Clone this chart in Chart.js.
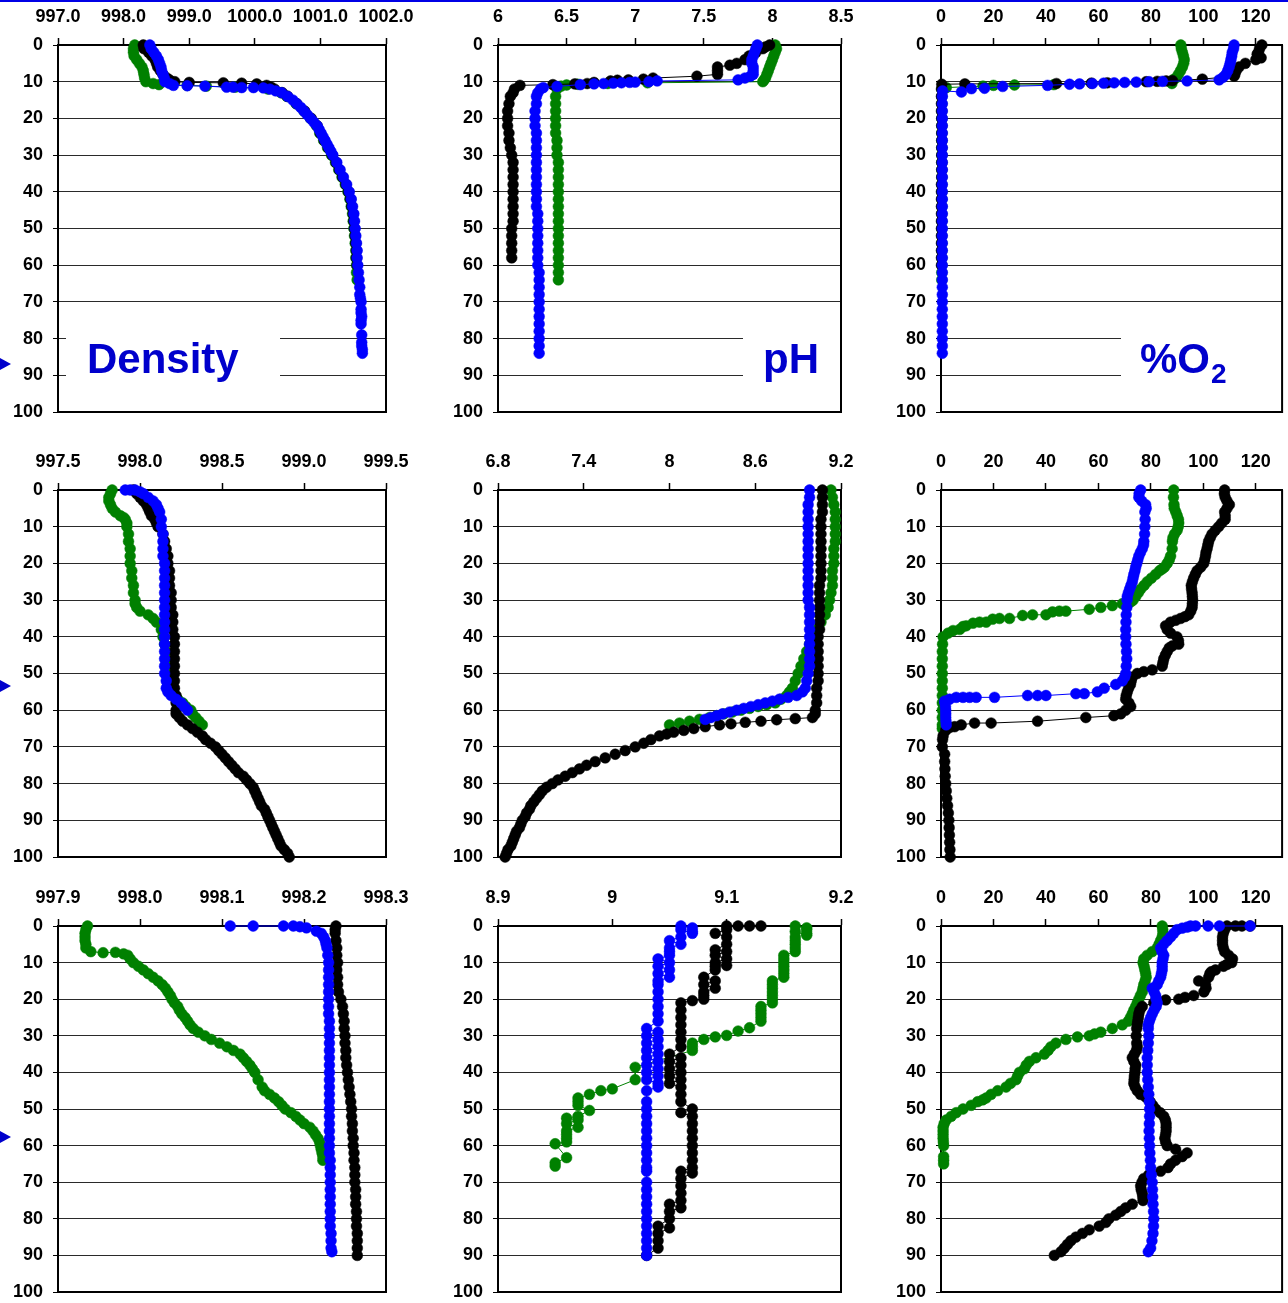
<!DOCTYPE html>
<html>
<head>
<meta charset="utf-8">
<title>Depth profiles</title>
<script src="https://cdn.jsdelivr.net/npm/chart.js@4.4.1/dist/chart.umd.min.js"></script>
<style>
  body { margin: 0; background: #fff; width: 1288px; height: 1303px; position: relative; overflow: hidden; }
  #topline { position: absolute; left: 0; top: 0; width: 1288px; height: 2px; background: #0000e6; }
  .arrow { position: absolute; left: 0; width: 0; height: 0; border-top: 6px solid transparent; border-bottom: 6px solid transparent; border-left: 11px solid #0000cc; }
</style>
</head>
<body>
<div id="topline"></div>
<div class="arrow" style="top:358px"></div>
<div class="arrow" style="top:680px"></div>
<div class="arrow" style="top:1131px"></div>
<script>
// depth (m) on y, measured value on x; each pair is [depth, value]
const depthTicks = [0, 10, 20, 30, 40, 50, 60, 70, 80, 90, 100];

const densTopTicks = [997, 998, 999, 1000, 1001, 1002];
const phTopTicks = [6, 6.5, 7, 7.5, 8, 8.5];
const oxyTicks = [0, 20, 40, 60, 80, 100, 120];
const densMidTicks = [997.5, 998, 998.5, 999, 999.5];
const phMidTicks = [6.8, 7.4, 8, 8.6, 9.2];
const densLowTicks = [997.9, 998, 998.1, 998.2, 998.3];
const phLowTicks = [8.9, 9, 9.1, 9.2];

// ---- top row ----
const densTopBlack = [[0,998.30],[1,998.31],[2,998.38],[3,998.43],[4,998.48],[5,998.50],[6,998.52],[7,998.56],[8,998.60],[9,998.66],[9.5,998.70],[10,998.78],[10.2,999.00],[10.3,999.52],[10.4,999.80],[10.6,1000.03],[11,1000.18],[11.5,1000.25],[12,1000.30],[13,1000.42],[14,1000.50],[16,1000.64],[18,1000.76],[20,1000.86],[22,1000.95],[24,1001.00],[26,1001.06],[28,1001.12],[30,1001.18],[32,1001.24],[34,1001.29],[36,1001.34],[38,1001.39],[40,1001.43],[42,1001.46],[44,1001.48],[46,1001.50],[48,1001.51],[50,1001.52],[52,1001.53],[54,1001.54],[56,1001.55],[58,1001.55],[60,1001.56]];
const densTopGreen = [[0,998.17],[1,998.15],[2,998.15],[3,998.16],[4,998.20],[5,998.24],[6,998.28],[7,998.30],[8,998.31],[9,998.32],[10,998.34],[10.5,998.45],[10.8,998.54],[11,998.97],[11.2,999.26],[11.5,999.70],[12,1000.20],[13,1000.40],[14,1000.49],[16,1000.63],[18,1000.75],[20,1000.85],[22,1000.94],[24,1000.99],[26,1001.05],[28,1001.11],[30,1001.17],[32,1001.23],[34,1001.28],[36,1001.33],[38,1001.38],[40,1001.42],[42,1001.45],[44,1001.47],[46,1001.49],[48,1001.50],[50,1001.51],[52,1001.52],[54,1001.53],[56,1001.54],[58,1001.54],[60,1001.55],[62,1001.55],[64,1001.56]];
const densTopBlue = [[0,998.40],[1,998.42],[2,998.46],[3,998.50],[4,998.53],[5,998.55],[6,998.57],[7,998.58],[8,998.60],[9,998.62],[10,998.63],[10.5,998.70],[11,998.76],[11.1,998.97],[11.2,999.24],[11.5,999.57],[11.5,999.67],[11.6,999.80],[11.6,999.98],[11.7,1000.13],[12,1000.23],[12.5,1000.32],[13,1000.41],[14,1000.50],[15,1000.58],[16,1000.64],[17,1000.70],[18,1000.75],[19,1000.80],[20,1000.85],[21,1000.90],[22,1000.95],[23,1000.98],[24,1001.01],[25,1001.04],[26,1001.07],[27,1001.10],[28,1001.13],[29,1001.16],[30,1001.19],[32,1001.25],[34,1001.30],[36,1001.35],[38,1001.40],[40,1001.44],[42,1001.47],[44,1001.49],[46,1001.51],[48,1001.52],[50,1001.53],[52,1001.54],[54,1001.55],[56,1001.56],[58,1001.56],[60,1001.57],[62,1001.58],[64,1001.59],[66,1001.60],[68,1001.60],[69,1001.61],[70,1001.62],[72,1001.62],[73,1001.62],[74,1001.63],[75,1001.62],[76,1001.62],[79,1001.63],[81,1001.63],[82,1001.63],[83,1001.64],[84,1001.64]];

const phTopBlack = [[0,7.98],[0.5,7.95],[1,7.93],[2,7.88],[3,7.83],[4,7.80],[5,7.74],[5.5,7.69],[6,7.60],[7,7.60],[8,7.60],[8.5,7.45],[9,7.13],[9.3,7.06],[9.5,6.95],[9.6,6.87],[9.8,6.82],[10.2,6.70],[10.5,6.65],[10.6,6.56],[10.8,6.40],[11,6.16],[12,6.12],[13,6.11],[14,6.09],[16,6.08],[18,6.07],[20,6.07],[22,6.07],[24,6.08],[26,6.08],[28,6.09],[30,6.10],[32,6.11],[34,6.11],[36,6.11],[38,6.11],[40,6.11],[42,6.11],[44,6.11],[46,6.11],[48,6.11],[50,6.10],[52,6.10],[54,6.10],[56,6.10],[58,6.10]];
const phTopGreen = [[0,8.02],[1,8.03],[2,8.02],[3,8.01],[4,8.00],[5,7.99],[6,7.98],[7,7.97],[8,7.96],[9,7.95],[9.5,7.94],[10,7.93],[10.3,7.09],[10.5,6.80],[10.7,6.58],[10.9,6.50],[11.2,6.46],[12,6.43],[14,6.42],[16,6.42],[18,6.42],[20,6.42],[22,6.42],[24,6.42],[26,6.43],[28,6.43],[30,6.43],[32,6.44],[34,6.44],[36,6.44],[38,6.44],[40,6.44],[42,6.44],[44,6.44],[46,6.44],[48,6.44],[50,6.44],[52,6.44],[54,6.44],[56,6.44],[58,6.44],[60,6.44],[62,6.44],[64,6.44]];
const phTopBlue = [[0,7.89],[1,7.88],[2,7.87],[3,7.86],[4,7.85],[5,7.85],[6,7.86],[7,7.86],[8,7.86],[8.5,7.84],[9,7.80],[9.5,7.75],[9.8,7.16],[10,7.10],[10.1,7.00],[10.2,6.96],[10.3,6.90],[10.4,6.84],[10.5,6.77],[10.6,6.70],[10.8,6.60],[11.3,6.43],[11.6,6.33],[12,6.31],[13,6.29],[14,6.28],[16,6.28],[18,6.27],[20,6.27],[22,6.27],[24,6.28],[26,6.28],[28,6.28],[30,6.28],[32,6.28],[34,6.28],[36,6.28],[38,6.28],[40,6.28],[42,6.28],[44,6.28],[46,6.29],[48,6.29],[50,6.29],[52,6.29],[54,6.29],[56,6.29],[58,6.29],[60,6.29],[62,6.30],[64,6.30],[66,6.30],[68,6.30],[70,6.30],[72,6.30],[74,6.30],[76,6.30],[78,6.30],[80,6.30],[82,6.30],[84,6.30]];

const oxyTopBlack = [[0,122.3],[1,121.4],[2,121.0],[2.5,120.5],[3.5,122.0],[4,120.0],[5,116.0],[6,113.6],[7,112.5],[8,112.0],[8.5,111.7],[9.3,99.6],[9.7,88.2],[9.8,85.8],[9.9,82.4],[10,78.2],[10.3,63.4],[10.4,57.3],[10.5,44.0],[10.6,9.1],[10.7,0.3],[12,0.2],[14,0.2],[16,0.2],[18,0.2],[20,0.3],[22,0.3],[24,0.3],[26,0.3],[28,0.3],[30,0.3],[32,0.3],[34,0.3],[36,0.3],[38,0.2],[40,0.2],[42,0.2],[44,0.2],[46,0.2],[48,0.2],[50,0.2],[52,0.2],[54,0.2],[56,0.2],[58,0.2],[60,0.2]];
const oxyTopGreen = [[0,91.4],[1,91.6],[2,92.0],[3,92.4],[4,92.7],[5,92.5],[6,92.0],[7,91.3],[8,90.5],[9,89.5],[9.5,88.4],[10,87.5],[10.5,88.0],[10.8,43.0],[10.9,28.0],[11,20.0],[11.2,16.0],[11.6,2.0],[12,0.3],[14,0.3],[16,0.3],[18,0.3],[20,0.3],[22,0.3],[24,0.3],[26,0.3],[28,0.3],[30,0.3],[32,0.3],[34,0.3],[36,0.3],[38,0.3],[40,0.3],[42,0.3],[44,0.3],[46,0.3],[48,0.3],[50,0.3],[52,0.3],[54,0.3],[56,0.3],[58,0.3],[60,0.3],[62,0.3],[64,0.3]];
const oxyTopBlue = [[0,111.7],[1,111.5],[2,111.0],[3,110.8],[4,110.5],[5,110.2],[6,109.8],[7,109.3],[8,108.6],[8.8,107.5],[9.5,106.0],[9.8,93.8],[9.9,84.4],[10,79.3],[10.1,74.4],[10.2,70.0],[10.3,66.0],[10.4,62.0],[10.5,57.7],[10.6,52.8],[10.7,49.0],[11,40.6],[11.3,23.5],[11.8,16.6],[11.9,11.6],[12.8,7.8],[12.5,0.6],[14,0.5],[16,0.5],[18,0.5],[20,0.5],[22,0.5],[24,0.5],[26,0.5],[28,0.5],[30,0.5],[32,0.5],[34,0.5],[36,0.5],[38,0.5],[40,0.5],[42,0.5],[44,0.5],[46,0.5],[48,0.5],[50,0.5],[52,0.5],[54,0.5],[56,0.5],[58,0.5],[60,0.5],[62,0.5],[64,0.5],[66,0.5],[68,0.5],[70,0.5],[72,0.5],[74,0.5],[76,0.5],[78,0.5],[80,0.5],[82,0.5],[84,0.5]];

// ---- middle row ----
const densMidBlack = [[0,997.96],[1,997.98],[2,998.00],[3,998.02],[4,998.04],[5,998.05],[6,998.06],[7,998.07],[8,998.09],[9,998.10],[10,998.11],[12,998.14],[14,998.15],[16,998.16],[18,998.17],[20,998.17],[22,998.18],[24,998.18],[26,998.18],[28,998.19],[30,998.19],[32,998.19],[34,998.20],[36,998.20],[38,998.20],[40,998.21],[42,998.21],[44,998.21],[46,998.21],[48,998.21],[50,998.21],[52,998.21],[54,998.21],[56,998.22],[58,998.22],[60,998.22],[61,998.22],[62,998.24],[63,998.26],[64,998.29],[65,998.32],[66,998.35],[67,998.38],[68,998.40],[69,998.43],[70,998.46],[71,998.48],[72,998.50],[73,998.52],[74,998.54],[75,998.56],[76,998.58],[77,998.60],[78,998.63],[79,998.65],[80,998.67],[81,998.69],[82,998.70],[83,998.71],[84,998.72],[85,998.73],[86,998.74],[87,998.76],[88,998.77],[89,998.78],[90,998.79],[91,998.80],[92,998.81],[93,998.82],[94,998.83],[95,998.84],[96,998.85],[97,998.86],[98,998.88],[99,998.90],[100,998.91]];
const densMidGreen = [[0,997.83],[1,997.82],[2,997.81],[3,997.81],[4,997.82],[5,997.83],[6,997.85],[7,997.88],[7.5,997.90],[8,997.91],[9,997.92],[10,997.92],[12,997.93],[14,997.93],[16,997.94],[18,997.94],[20,997.94],[22,997.95],[24,997.95],[26,997.96],[28,997.96],[30,997.97],[31,997.97],[32,997.98],[33,998.00],[34,998.05],[35,998.08],[36,998.10],[38,998.13],[40,998.14],[42,998.15],[44,998.16],[46,998.16],[48,998.17],[50,998.17],[52,998.18],[54,998.19],[56,998.21],[57,998.23],[58,998.26],[59,998.28],[60,998.31],[61,998.32],[62,998.34],[63,998.36],[64,998.38]];
const densMidBlue = [[0,997.91],[0,997.94],[0,997.97],[0.5,998.00],[1,998.02],[2,998.05],[3,998.08],[4,998.10],[5,998.11],[6,998.12],[8,998.13],[10,998.13],[12,998.14],[14,998.14],[16,998.14],[18,998.14],[20,998.15],[22,998.15],[24,998.15],[26,998.15],[28,998.15],[30,998.15],[32,998.15],[34,998.15],[36,998.15],[38,998.15],[40,998.15],[42,998.15],[44,998.15],[46,998.15],[48,998.15],[50,998.15],[52,998.16],[54,998.16],[55,998.17],[56,998.19],[57,998.22],[58,998.25],[59,998.27],[60,998.29]];

const phMidBlack = [[0,9.07],[2,9.07],[4,9.07],[6,9.07],[8,9.06],[10,9.06],[12,9.06],[14,9.06],[16,9.06],[18,9.06],[20,9.06],[22,9.06],[24,9.06],[26,9.05],[28,9.05],[30,9.05],[32,9.05],[34,9.05],[36,9.05],[38,9.05],[40,9.04],[42,9.04],[44,9.04],[46,9.04],[48,9.04],[50,9.04],[52,9.04],[54,9.03],[56,9.03],[58,9.03],[60,9.02],[61,9.02],[62,9.00],[62.3,8.88],[62.6,8.75],[63,8.64],[63.3,8.53],[63.7,8.43],[64,8.35],[64.5,8.25],[65,8.17],[65.5,8.10],[66,8.03],[66.5,7.98],[67,7.93],[68,7.87],[69,7.82],[70,7.76],[71,7.69],[72,7.62],[73,7.55],[74,7.48],[75,7.42],[76,7.37],[77,7.32],[78,7.27],[79,7.22],[80,7.18],[81,7.14],[82,7.11],[83,7.09],[84,7.07],[85,7.05],[86,7.03],[87,7.02],[88,7.00],[89,6.99],[90,6.97],[91,6.96],[92,6.95],[93,6.93],[94,6.92],[95,6.91],[96,6.90],[97,6.89],[98,6.87],[99,6.86],[100,6.85]];
const phMidGreen = [[0,9.13],[2,9.14],[4,9.15],[6,9.16],[8,9.16],[10,9.16],[12,9.16],[14,9.16],[16,9.15],[18,9.15],[20,9.15],[22,9.14],[24,9.14],[26,9.14],[28,9.13],[30,9.12],[32,9.11],[34,9.09],[36,9.06],[38,9.03],[40,9.00],[42,8.98],[44,8.96],[46,8.94],[48,8.92],[50,8.90],[52,8.88],[54,8.86],[55,8.84],[56,8.82],[57,8.78],[58,8.74],[58.5,8.68],[59,8.62],[59.5,8.56],[60,8.50],[60.5,8.44],[61,8.38],[61.5,8.33],[62,8.28],[62.5,8.21],[63,8.14],[63.5,8.07],[64,8.00]];
const phMidBlue = [[0,8.98],[2,8.98],[4,8.97],[6,8.97],[8,8.97],[10,8.97],[12,8.97],[14,8.97],[16,8.97],[18,8.97],[20,8.97],[22,8.97],[24,8.97],[26,8.97],[28,8.97],[30,8.97],[32,8.98],[34,8.98],[36,8.98],[38,8.98],[40,8.98],[42,8.98],[44,8.98],[46,8.98],[48,8.98],[50,8.97],[52,8.96],[54,8.95],[55,8.93],[56,8.89],[56.5,8.83],[57,8.77],[57.5,8.72],[58,8.67],[58.5,8.62],[59,8.57],[59.5,8.52],[60,8.47],[60.5,8.42],[61,8.37],[61.5,8.33],[62,8.29],[62.5,8.25]];

const oxyMidBlack = [[0,108.1],[1,108.0],[2,108.3],[3,109.0],[4,109.9],[5,109.0],[6,108.1],[7,108.3],[8,108.3],[9,107.0],[10,105.8],[11,104.5],[12,103.3],[13,102.6],[14,102.0],[15,101.7],[16,101.4],[17,101.0],[18,100.8],[19,100.5],[20,100.1],[21,99.0],[22,97.6],[23,96.9],[24,96.3],[25,95.8],[26,95.4],[27,95.5],[28,95.7],[29,95.8],[30,95.9],[31,95.8],[32,95.7],[33,95.2],[34,94.4],[34.5,93.0],[35,91.3],[35.5,89.5],[36,87.5],[37,85.6],[38,86.2],[39,87.5],[40,89.9],[41,90.5],[42,90.6],[42.5,88.1],[43,87.0],[44,86.2],[45,85.5],[46,84.9],[47,84.6],[48,84.3],[49,80.5],[49.5,77.3],[50,74.8],[51,72.9],[52,72.5],[53,72.2],[54,71.5],[55,71.0],[56,70.6],[57,70.4],[58,71.6],[59,72.3],[60,70.4],[61,68.5],[61.5,65.9],[62,55.2],[63,36.8],[63.5,19.1],[63.5,12.8],[64,7.7],[64.5,5.2],[64.7,3.3],[65.5,1.8],[67,0.8],[68,0.6],[70,0.5],[72,1.4],[74,1.4],[76,1.5],[78,1.6],[80,1.8],[82,2.0],[84,2.2],[86,2.5],[88,2.8],[90,3.0],[92,3.1],[94,3.2],[96,3.3],[98,3.4],[100,3.5]];
const oxyMidGreen = [[0,88.7],[2,88.6],[4,88.8],[5,88.9],[6,89.5],[7,90.0],[8,90.5],[9,90.6],[10,90.4],[11,90.0],[12,89.0],[13,88.4],[14,88.2],[16,88.1],[18,87.5],[19,87.0],[20,86.2],[21,85.2],[21.5,84.3],[22,83.3],[23,81.8],[24,80.2],[25,78.6],[26,77.4],[27,76.1],[28,75.2],[29,74.2],[30,73.2],[30.5,72.3],[31,69.1],[31.5,65.3],[32,60.9],[32.5,56.5],[33,47.6],[33,45.1],[33.2,42.5],[34,40.0],[34,34.9],[34.2,31.1],[35,26.1],[35,22.3],[35.2,19.7],[36,17.2],[36,14.7],[36.3,12.2],[37,9.6],[37.2,8.4],[38,7.1],[38.3,4.6],[39,2.7],[40,0.8],[42,0.6],[44,0.5],[46,0.5],[48,0.5],[50,0.5],[52,0.5],[54,0.5],[56,0.5],[58,0.5],[60,0.5],[62,0.5],[64,0.5],[65,0.5]];
const oxyMidBlue = [[0,76.1],[1,75.5],[2,75.4],[3,76.5],[4,78.0],[5,78.2],[6,77.7],[8,77.8],[10,77.7],[12,77.6],[14,77.3],[15,77.2],[16,76.7],[17,76.0],[18,75.4],[19,75.0],[20,74.6],[21,74.2],[22,73.9],[23,73.5],[24,73.2],[25,72.9],[26,72.4],[27,71.9],[28,71.4],[29,71.0],[30,70.9],[32,70.8],[34,70.6],[36,70.5],[38,70.4],[40,70.4],[42,70.5],[44,70.7],[46,70.8],[48,70.6],[50,70.4],[51,70.0],[52,69.1],[53,66.6],[54,62.2],[55,59.6],[55.5,54.6],[55.5,51.4],[56,40.0],[56,36.8],[56,33.0],[56.5,20.4],[56.5,13.4],[56.5,10.9],[56.5,8.4],[56.5,5.8],[57,3.3],[57.5,1.4],[58,1.5],[59,1.7],[60,1.8],[61,1.8],[62,1.8],[63,1.9],[64,2.0]];

// ---- bottom row ----
const densLowBlack = [[0,998.239],[1,998.238],[2,998.238],[4,998.239],[6,998.240],[8,998.240],[10,998.241],[12,998.240],[14,998.241],[16,998.241],[18,998.242],[20,998.245],[22,998.247],[24,998.248],[26,998.249],[28,998.249],[30,998.250],[32,998.250],[34,998.251],[36,998.251],[38,998.252],[40,998.253],[42,998.254],[44,998.255],[46,998.256],[48,998.257],[50,998.258],[52,998.258],[54,998.259],[56,998.259],[58,998.260],[60,998.260],[62,998.261],[64,998.261],[66,998.262],[68,998.262],[70,998.262],[72,998.263],[74,998.263],[76,998.263],[78,998.264],[80,998.264],[82,998.264],[84,998.265],[86,998.265],[88,998.265],[90,998.265]];
const densLowGreen = [[0,997.936],[1,997.934],[2,997.933],[3,997.933],[4,997.933],[5,997.934],[6,997.934],[7,997.940],[7.3,997.955],[7.2,997.970],[7.6,997.980],[8,997.985],[9,997.988],[10,997.992],[11,997.998],[12,998.004],[13,998.010],[14,998.016],[15,998.022],[16,998.027],[17,998.031],[18,998.034],[19,998.037],[20,998.039],[21,998.042],[22,998.046],[23,998.048],[24,998.051],[25,998.055],[26,998.058],[27,998.061],[28,998.065],[29,998.071],[30,998.079],[31,998.087],[32,998.097],[33,998.106],[34,998.114],[35,998.122],[36,998.126],[37,998.130],[38,998.134],[39,998.137],[40,998.140],[42,998.144],[44,998.149],[45,998.152],[46,998.158],[47,998.164],[48,998.169],[49,998.173],[50,998.177],[51,998.184],[52,998.190],[53,998.195],[54,998.200],[55,998.207],[56,998.211],[57,998.214],[58,998.217],[59,998.219],[60,998.220],[61,998.221],[62,998.222],[63,998.223],[64,998.223]];
const densLowBlue = [[0,998.110],[0,998.138],[0,998.175],[0,998.187],[0.2,998.195],[0.5,998.203],[1.4,998.215],[2,998.221],[3,998.224],[4,998.226],[5,998.227],[6,998.228],[8,998.229],[10,998.230],[12,998.230],[14,998.230],[16,998.230],[18,998.230],[20,998.230],[22,998.230],[24,998.230],[26,998.231],[28,998.231],[30,998.231],[32,998.231],[34,998.231],[36,998.231],[38,998.231],[40,998.231],[42,998.231],[44,998.231],[46,998.231],[48,998.231],[50,998.231],[52,998.231],[54,998.231],[56,998.231],[58,998.231],[60,998.231],[62,998.231],[64,998.232],[66,998.232],[68,998.232],[70,998.232],[72,998.232],[74,998.232],[76,998.232],[78,998.232],[80,998.232],[82,998.232],[84,998.233],[86,998.233],[88,998.233],[89,998.234]];

const phLowBlack = [[0,9.13],[0,9.12],[0,9.11],[0,9.10],[1,9.10],[2,9.09],[3,9.10],[5,9.10],[6.5,9.09],[7,9.10],[8,9.09],[9,9.10],[10,9.09],[10.8,9.10],[11,9.09],[12,9.09],[14,9.08],[15,9.09],[16,9.08],[17,9.09],[18,9.08],[19,9.08],[20,9.08],[20.4,9.07],[21,9.06],[23,9.06],[25,9.06],[27,9.06],[29,9.06],[31,9.06],[33,9.06],[35,9.05],[36,9.06],[37,9.05],[38,9.06],[39,9.05],[40,9.06],[41,9.05],[42,9.06],[43,9.05],[44,9.06],[46,9.06],[48,9.06],[50,9.07],[51,9.06],[52,9.07],[54,9.07],[56,9.07],[58,9.07],[60,9.07],[62,9.07],[64,9.07],[66,9.07],[67,9.06],[67.5,9.07],[69,9.06],[71,9.06],[73,9.06],[75,9.06],[76,9.05],[77,9.06],[78,9.05],[80,9.05],[82,9.04],[82.5,9.05],[84,9.04],[86,9.04],[88,9.04],[90,9.03]];
const phLowGreen = [[0,9.16],[0.5,9.17],[1,9.17],[2,9.17],[2.5,9.17],[1.5,9.16],[3,9.16],[4,9.16],[5,9.16],[6,9.16],[7,9.16],[8,9.15],[9,9.15],[10,9.15],[11,9.15],[12,9.15],[13,9.15],[14,9.15],[15,9.14],[16,9.14],[17,9.14],[18,9.14],[19,9.14],[20,9.14],[21,9.14],[22,9.13],[23,9.13],[24,9.13],[25,9.13],[26,9.13],[27.8,9.12],[28.7,9.11],[29.9,9.10],[30.3,9.09],[31,9.08],[32,9.07],[33,9.07],[34,9.07],[38.6,9.02],[42,9.02],[44.5,9.00],[45,8.99],[46,8.98],[47,8.97],[48,8.97],[49,8.97],[50.4,8.98],[52,8.97],[52.5,8.96],[53,8.97],[54,8.96],[55,8.97],[56,8.96],[57,8.96],[58,8.96],[59,8.96],[59.5,8.95],[63.3,8.96],[64.7,8.95],[65.6,8.95]];
const phLowBlue = [[0,9.06],[0.5,9.07],[1.5,9.07],[2,9.07],[1,9.06],[3,9.06],[4,9.05],[5,9.06],[6,9.05],[7,9.05],[8,9.05],[9,9.04],[10,9.05],[11,9.04],[12,9.05],[13,9.04],[14,9.05],[15,9.04],[16,9.04],[18,9.04],[20,9.04],[22,9.04],[24,9.04],[26,9.04],[28,9.03],[29,9.04],[30,9.03],[31,9.04],[32,9.03],[33,9.04],[34,9.03],[35,9.04],[36,9.03],[37,9.04],[38,9.03],[39,9.04],[40,9.03],[41,9.04],[42,9.03],[43,9.04],[44,9.04],[45,9.03],[48,9.03],[50,9.03],[52,9.03],[54,9.03],[56,9.03],[58,9.03],[60,9.03],[62,9.03],[64,9.03],[66,9.03],[67,9.03],[70,9.03],[72,9.03],[74,9.03],[76,9.03],[78,9.03],[80,9.03],[82,9.03],[84,9.03],[86,9.03],[88,9.03],[90,9.03]];

const oxyLowBlack = [[0,117.8],[0,114.7],[0,112.2],[0,109.0],[1,108.1],[2,107.6],[3,107.3],[4,107.3],[5,107.3],[6,107.6],[7,108.1],[8,109.6],[9,111.1],[10,110.8],[10.5,109.0],[11,107.7],[12,104.6],[12.5,103.0],[13,102.5],[14,102.0],[15,98.2],[16,100.8],[17,101.0],[18,100.2],[19,96.3],[19.5,93.0],[20,90.6],[20.2,85.6],[21,81.1],[22,76.7],[23,75.8],[24,75.4],[25,75.2],[26,75.0],[27,74.8],[28,74.6],[30,74.4],[32,74.6],[33,74.8],[34,74.5],[35,73.7],[36,72.9],[37,73.5],[38,74.2],[39,74.0],[40,73.9],[41,73.7],[42,73.6],[43,73.5],[44,74.0],[45,74.8],[46,76.0],[46.5,77.7],[47,78.5],[48,79.7],[49,80.7],[50,81.8],[51,83.5],[52,84.9],[53,85.5],[54,85.8],[55,85.8],[56,85.8],[57,85.6],[58,85.3],[59,85.6],[60,86.2],[61,89.4],[62,93.8],[63,91.9],[64,89.4],[65,87.5],[66,86.5],[67,83.7],[68,79.2],[69,77.3],[70,76.6],[71,76.1],[72,76.3],[73,76.7],[74,76.9],[75,77.0],[76,72.9],[77,70.4],[78,68.5],[79,66.6],[80,64.0],[81,62.8],[82,60.3],[83,56.5],[84,53.9],[85,51.4],[86,49.5],[87,48.2],[88,47.0],[89,45.7],[90,43.2]];
const oxyLowGreen = [[0,84.3],[1,84.5],[2,84.6],[3,84.3],[4,83.7],[5,83.1],[6,82.4],[7,80.5],[8,78.6],[9,77.3],[10,77.0],[11,77.4],[12,77.7],[13,78.0],[14,78.2],[15,77.8],[16,77.3],[17,77.0],[18,76.7],[19,76.0],[20,75.4],[21,74.8],[22,74.2],[23,73.5],[24,72.9],[25,72.2],[26,71.4],[27,69.1],[28,65.3],[29,60.9],[29.5,58.5],[30,56.5],[30.3,52.0],[31,47.6],[32,43.8],[33,41.9],[34,40.8],[35,39.4],[36,36.2],[37,33.7],[38,32.5],[39,31.8],[40,29.9],[41,29.2],[42,28.6],[43,26.5],[44,24.8],[45,21.6],[46,19.1],[47,17.2],[47.5,15.9],[48,14.0],[49,11.5],[50,8.4],[51,5.8],[52,3.9],[53,2.0],[54,1.2],[55,0.8],[56,0.8],[57,0.8],[58,0.8],[59,0.9],[60,1.0],[63,1.0],[64,1.0],[65,1.0]];
const oxyLowBlue = [[0,117.8],[0,106.1],[0,101.8],[0,97.0],[0,95.1],[0.3,93.8],[0.6,91.9],[1,90.0],[2,88.7],[3,87.5],[4,86.2],[5,84.9],[6,83.7],[7,84.2],[8,84.9],[9,84.6],[10,84.3],[11,84.3],[12,84.3],[13,84.0],[14,83.7],[15,83.0],[16,82.4],[17,80.5],[18,81.2],[19,81.8],[20,82.0],[21,82.4],[22,82.0],[23,81.2],[24,80.5],[25,79.9],[26,79.4],[27,79.0],[28,79.0],[30,79.2],[32,79.0],[34,78.8],[36,78.6],[38,78.6],[40,78.6],[42,78.8],[44,79.0],[46,79.2],[48,79.4],[50,79.5],[52,79.5],[54,79.4],[56,79.3],[58,79.4],[60,79.5],[62,79.6],[64,79.8],[66,79.9],[68,80.2],[70,80.5],[72,80.6],[74,80.7],[76,80.8],[78,81.0],[80,81.1],[82,81.0],[84,80.8],[86,80.4],[88,79.9],[89,79.0]];

// panel grid: columns and rows of the page
const colLeft = [0, 430, 860], colWidth = [430, 430, 428], yAxisWidth = [58, 68, 81], padRight = [44, 19, 5];
const rowTop = [0, 435, 870], rowHeight = [435, 435, 433], xAxisHeight = [45, 55, 56], padBottom = [23, 13, 11];

const FONT = '"Liberation Sans", Arial, Helvetica, sans-serif';

const panels = [
  { col: 0, row: 0, min: 997, max: 1002, ticks: densTopTicks, dec: 1, black: densTopBlack, green: densTopGreen, blue: densTopBlue,
    label: { text: 'Density', x: 87, y: 373, box: [66, 316, 214, 88] } },
  { col: 1, row: 0, min: 6, max: 8.5, ticks: phTopTicks, dec: 0, black: phTopBlack, green: phTopGreen, blue: phTopBlue,
    label: { text: 'pH', x: 333, y: 373, box: [313, 316, 98, 88] } },
  { col: 2, row: 0, min: 0, max: 130, ticks: oxyTicks, dec: 0, black: oxyTopBlack, green: oxyTopGreen, blue: oxyTopBlue,
    label: { text: '%O', sub: '2', x: 280, y: 373, box: [261, 316, 162, 88] } },
  { col: 0, row: 1, min: 997.5, max: 999.5, ticks: densMidTicks, dec: 1, black: densMidBlack, green: densMidGreen, blue: densMidBlue },
  { col: 1, row: 1, min: 6.8, max: 9.2, ticks: phMidTicks, dec: 0, black: phMidBlack, green: phMidGreen, blue: phMidBlue },
  { col: 2, row: 1, min: 0, max: 130, ticks: oxyTicks, dec: 0, black: oxyMidBlack, green: oxyMidGreen, blue: oxyMidBlue },
  { col: 0, row: 2, min: 997.9, max: 998.3, ticks: densLowTicks, dec: 1, black: densLowBlack, green: densLowGreen, blue: densLowBlue },
  { col: 1, row: 2, min: 8.9, max: 9.2, ticks: phLowTicks, dec: 0, black: phLowBlack, green: phLowGreen, blue: phLowBlue },
  { col: 2, row: 2, min: 0, max: 130, ticks: oxyTicks, dec: 0, black: oxyLowBlack, green: oxyLowGreen, blue: oxyLowBlue }
];

// white box + big blue title inside the top-row panels
const titlePlugin = {
  id: 'panelTitle',
  beforeDatasetsDraw(chart, args, opts) {
    if (!opts || !opts.text) return;
    const ctx = chart.ctx;
    ctx.save();
    ctx.fillStyle = '#ffffff';
    ctx.fillRect(opts.box[0], opts.box[1], opts.box[2], opts.box[3]);
    ctx.fillStyle = '#0000cc';
    ctx.textBaseline = 'alphabetic';
    ctx.textAlign = 'left';
    ctx.font = 'bold 42px ' + FONT;
    ctx.fillText(opts.text, opts.x, opts.y);
    if (opts.sub) {
      const w = ctx.measureText(opts.text).width;
      ctx.font = 'bold 28px ' + FONT;
      ctx.fillText(opts.sub, opts.x + w + 1, opts.y + 10);
    }
    ctx.restore();
  }
};

// right and bottom edge of the plot box
const framePlugin = {
  id: 'plotFrame',
  beforeDatasetsDraw(chart) {
    const { ctx, chartArea: a } = chart;
    ctx.save();
    ctx.strokeStyle = '#000';
    ctx.lineWidth = 2;
    ctx.beginPath();
    ctx.moveTo(a.right, a.top);
    ctx.lineTo(a.right, a.bottom);
    ctx.lineTo(a.left, a.bottom);
    ctx.stroke();
    ctx.restore();
  }
};

function series(pairs, color) {
  return {
    data: pairs.map(p => ({ x: p[1], y: p[0] })),
    showLine: true,
    borderColor: color,
    backgroundColor: color,
    borderWidth: 1,
    pointRadius: 5.4,
    pointBorderWidth: 0.5,
    pointBackgroundColor: color,
    pointBorderColor: color,
    pointHoverRadius: 5.4,
    clip: false
  };
}

panels.forEach(p => {
  const w = colWidth[p.col], h = rowHeight[p.row];
  const canvas = document.createElement('canvas');
  canvas.width = w;
  canvas.height = h;
  canvas.style.cssText = 'position:absolute;left:' + colLeft[p.col] + 'px;top:' + rowTop[p.row] + 'px;width:' + w + 'px;height:' + h + 'px';
  document.body.appendChild(canvas);

  const yw = yAxisWidth[p.col], xh = xAxisHeight[p.row];

  new Chart(canvas.getContext('2d'), {
    type: 'scatter',
    data: {
      datasets: [series(p.blue, '#0000ff'), series(p.black, '#000000'), series(p.green, '#008000')]
    },
    options: {
      responsive: false,
      animation: false,
      devicePixelRatio: 1,
      events: [],
      layout: { padding: { left: 0, top: 0, right: padRight[p.col], bottom: padBottom[p.row] } },
      plugins: {
        legend: { display: false },
        tooltip: { enabled: false },
        panelTitle: p.label || {}
      },
      scales: {
        x: {
          type: 'linear',
          position: 'top',
          min: p.min,
          max: p.max,
          afterBuildTicks: s => { s.ticks = p.ticks.map(v => ({ value: v })); },
          afterFit: s => { s.height = xh; s.paddingLeft = 0; s.paddingRight = 0; },
          grid: { drawOnChartArea: false, drawTicks: true, tickLength: 7, tickColor: '#000', tickWidth: 1.5 },
          border: { display: true, color: '#000', width: 2 },
          ticks: {
            color: '#000',
            padding: 10,
            maxRotation: 0,
            autoSkip: false,
            font: { family: FONT, size: 18, weight: 'bold' },
            callback: v => p.dec ? v.toFixed(p.dec) : String(v)
          }
        },
        y: {
          type: 'linear',
          reverse: true,
          min: 0,
          max: 100,
          afterBuildTicks: s => { s.ticks = depthTicks.map(v => ({ value: v })); },
          afterFit: s => { s.width = yw; s.paddingTop = 0; s.paddingBottom = 0; },
          grid: { color: '#2a2a2a', lineWidth: 1, tickLength: 5, tickColor: '#000' },
          border: { display: true, color: '#000', width: 2 },
          ticks: {
            color: '#000',
            padding: 10,
            autoSkip: false,
            font: { family: FONT, size: 18, weight: 'bold', lineHeight: 1 },
            callback: v => String(v)
          }
        }
      }
    },
    plugins: [titlePlugin, framePlugin]
  });
});
</script>
</body>
</html>
